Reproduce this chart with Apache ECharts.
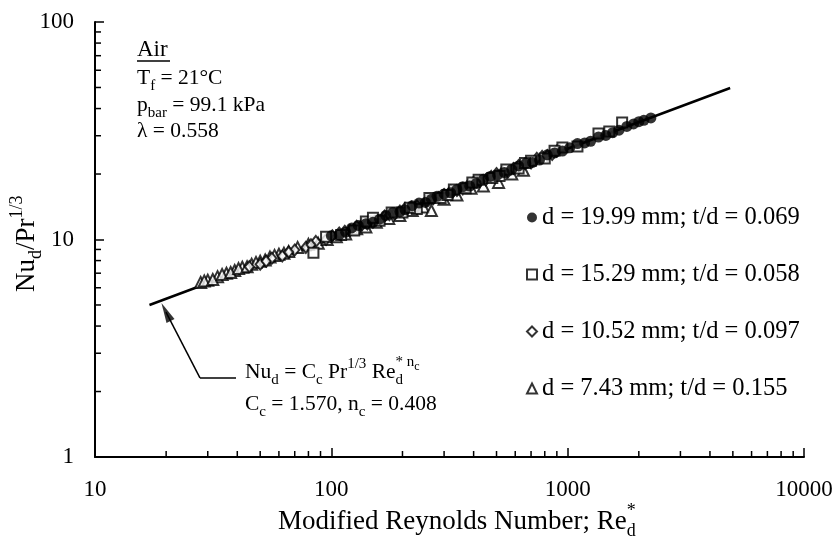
<!DOCTYPE html>
<html>
<head>
<meta charset="utf-8">
<script src="https://cdn.jsdelivr.net/npm/echarts@6/dist/echarts.min.js"></script>
<style>
  html, body { margin: 0; padding: 0; background: #fff; }
  #chart { width: 837px; height: 546px; }
</style>
</head>
<body>
<div id="chart"></div>
<script>
const FONT = '"Liberation Serif", "Times New Roman", serif';

// d = 19.99 mm (filled circles)
const cirRe = [100, 115, 130, 150, 170, 195, 220, 250, 280, 320, 360, 410, 470, 540, 620, 710, 820, 950, 1100, 1250, 1450, 1650, 1900, 2100, 2250,
  108, 122, 140, 160, 182, 205, 235, 265, 300, 340, 385, 440, 505, 580, 665, 760, 880, 1020, 1180, 1350, 1550, 1780, 2000];
const cirNu = [10.4, 10.8, 11.6, 12.0, 12.9, 13.4, 14.3, 14.8, 15.8, 16.4, 17.5, 18.1, 19.5, 20.3, 21.8, 22.6, 24.5, 25.5, 27.6, 28.3, 30.1, 31.8, 34.0, 35.3, 36.2,
  10.5, 11.3, 11.8, 12.4, 13.3, 13.7, 14.7, 15.3, 16.2, 17.0, 17.6, 18.9, 19.8, 21.0, 22.4, 23.2, 25.0, 26.4, 27.8, 29.6, 31.0, 33.1, 34.8];
// d = 15.29 mm (squares)
const sqRe = [84, 95, 110, 125, 140, 160, 180, 200, 230, 260, 290, 330, 370, 420, 480, 550, 620, 700, 800, 950, 1100, 1350, 1700,
  150, 215, 310, 395, 515, 660, 880, 1500];
const sqNu = [8.7, 10.3, 10.5, 11.0, 12.1, 12.2, 13.3, 13.3, 13.8, 15.5, 15.5, 17.0, 17.2, 18.8, 19.2, 21.0, 21.2, 23.0, 23.6, 26.5, 26.8, 30.7, 34.5,
  12.6, 14.0, 16.0, 18.3, 19.6, 22.5, 25.6, 31.4];
// d = 10.52 mm (diamonds)
const diaRe = [45, 50, 56, 62, 70, 78, 86, 95, 108, 120, 135, 150, 168, 185, 205, 230, 255, 285, 320, 360, 400, 450, 500, 560, 620, 700, 780, 860,
  53, 66, 82, 101, 114, 128, 142, 176, 195, 218, 270, 300, 340, 380, 425, 475, 530, 590, 660, 740, 820, 900];
const diaNu = [7.5, 7.7, 8.2, 8.4, 8.95, 9.2, 9.8, 10.0, 10.7, 11.0, 11.7, 12.0, 12.8, 13.1, 13.9, 14.3, 15.2, 15.6, 16.7, 17.1, 18.3, 18.8, 20.1, 20.5, 21.9, 22.5, 24.1, 24.6,
  7.95, 8.75, 9.45, 10.4, 10.9, 11.5, 11.8, 13.0, 13.5, 14.1, 15.4, 16.1, 16.8, 17.8, 18.5, 19.5, 20.4, 21.2, 22.3, 23.6, 24.3, 25.5];
// d = 7.43 mm (triangles)
const triRe = [28, 30, 33, 36, 39, 42, 46, 50, 55, 60, 66, 72, 80, 88, 96, 105, 115, 128, 140, 155, 175, 195, 220, 245, 265, 300, 340, 390, 440, 510, 580, 650,
  29, 31.5, 34.5, 37.5, 40.5, 44, 48, 52.5, 57.5, 63];
const triNu = [6.35, 6.5, 6.75, 7.0, 7.2, 7.45, 7.7, 7.95, 8.3, 8.55, 8.8, 9.2, 9.5, 9.6, 10.0, 10.3, 10.6, 11.2, 11.4, 12.0, 12.5, 12.9, 13.6, 14.1, 13.6, 15.3, 16.0, 17.2, 17.6, 18.3, 20.0, 20.8,
  6.45, 6.55, 6.9, 7.05, 7.35, 7.5, 7.85, 8.05, 8.45, 8.65];

// correlation line end points
const fitRe = [17, 4870];
const fitNu = [5.0, 49.7];

// arrow: horizontal end, corner, head
const arrowRe = [39.5, 27.8, 19.97];
const arrowNu = [2.31, 2.31, 4.64];

const seriesNames = [
  'd = 19.99 mm; t/d = 0.069',
  'd = 15.29 mm; t/d = 0.058',
  'd = 10.52 mm; t/d = 0.097',
  'd = 7.43 mm; t/d = 0.155'
];

const xMinor = [20, 30, 40, 50, 60, 70, 80, 90, 200, 300, 400, 500, 600, 700, 800, 900, 2000, 3000, 4000, 5000, 6000, 7000, 8000, 9000];
const yMinor = [2, 3, 4, 5, 6, 7, 8, 9, 20, 30, 40, 50, 60, 70, 80, 90];

const zip = (a, b) => a.map((v, i) => [v, b[i]]);

// simple typesetting for sub/superscripts
const ctx = document.createElement('canvas').getContext('2d');
const measure = (t, size) => {
  ctx.font = size + 'px ' + FONT;
  return ctx.measureText(t).width;
};
// parts: [text, fontSize, dy, keepX]
const typeset = (parts) => {
  const out = [];
  let cx = 0;
  parts.forEach(([t, size, dy, keep]) => {
    out.push({
      type: 'text', x: cx, y: dy || 0,
      style: { text: t, font: size + 'px ' + FONT, fill: '#000', verticalAlign: 'middle', textVerticalAlign: 'middle' }
    });
    if (!keep) cx += measure(t, size);
  });
  return out;
};

const A = 21.5, S = 15;   // annotation text
const T = 27, TS = 18;    // axis titles

const chart = echarts.init(document.getElementById('chart'));

const axisCommon = {
  type: 'log',
  logBase: 10,
  axisLine: { lineStyle: { color: '#000', width: 2 } },
  axisTick: { inside: true, length: 9, lineStyle: { color: '#000', width: 1.5 } },
  splitLine: { show: false },
  axisLabel: {
    color: '#000', fontFamily: FONT, fontSize: 23,
    formatter: (v) => String(Math.round(v))
  }
};

const minorTicks = (vals, isX) => ({
  type: 'custom',
  silent: true,
  clip: false,
  data: vals.map((v) => (isX ? [v, 1] : [10, v])),
  renderItem: (params, api) => {
    const p = api.coord([api.value(0), api.value(1)]);
    return {
      type: 'line',
      shape: isX ? { x1: p[0], y1: p[1], x2: p[0], y2: p[1] - 6 } : { x1: p[0], y1: p[1], x2: p[0] + 6, y2: p[1] },
      style: { stroke: '#000', lineWidth: 1.5 }
    };
  }
});

const openStyle = { color: '#fff', borderColor: '#000', borderWidth: 2 };

chart.setOption({
  animation: false,
  backgroundColor: '#fff',
  grid: { left: 95, right: 33, top: 22, bottom: 89 },
  xAxis: Object.assign({}, axisCommon, { min: 10, max: 10000, axisLabel: Object.assign({}, axisCommon.axisLabel, { margin: 21 }) }),
  yAxis: Object.assign({}, axisCommon, { min: 1, max: 100, axisLabel: Object.assign({}, axisCommon.axisLabel, { margin: 21 }) }),
  legend: {
    orient: 'vertical',
    left: 521,
    top: 200,
    itemGap: 32,
    itemWidth: 10,
    itemHeight: 10,
    selectedMode: false,
    textStyle: { color: '#000', fontFamily: FONT, fontSize: 24.5, lineHeight: 25 },
    data: seriesNames
  },
  series: [
    {
      type: 'line', data: zip(fitRe, fitNu), symbol: 'none', silent: true,
      lineStyle: { color: '#000', width: 2.5 }, z: 1
    },
    {
      name: seriesNames[3], type: 'scatter', data: zip(triRe, triNu),
      symbol: 'triangle', symbolSize: 11, itemStyle: openStyle, z: 3
    },
    {
      name: seriesNames[2], type: 'scatter', data: zip(diaRe, diaNu),
      symbol: 'diamond', symbolSize: [9, 11], itemStyle: openStyle, z: 3
    },
    {
      name: seriesNames[1], type: 'scatter', data: zip(sqRe, sqNu),
      symbol: 'rect', symbolSize: 10, itemStyle: openStyle, z: 3
    },
    {
      name: seriesNames[0], type: 'scatter', data: zip(cirRe, cirNu),
      symbol: 'circle', symbolSize: 11, itemStyle: { color: '#000' }, z: 4
    },
    {
      type: 'scatter', silent: true,
      data: [[arrowRe[2], arrowNu[2]]],
      symbol: 'triangle', symbolSize: [9, 20], symbolRotate: 27,
      itemStyle: { color: '#000' },
      markLine: {
        silent: true, symbol: ['none', 'none'], label: { show: false },
        lineStyle: { color: '#000', width: 1.5, type: 'solid' },
        data: [
          [{ coord: [arrowRe[0], arrowNu[0]] }, { coord: [arrowRe[1], arrowNu[1]] }],
          [{ coord: [arrowRe[1], arrowNu[1]] }, { coord: [arrowRe[2], arrowNu[2]] }]
        ]
      }
    },
    minorTicks(xMinor, true),
    minorTicks(yMinor, false)
  ],
  graphic: [
    // air properties block
    { type: 'group', x: 137, y: 50, children: typeset([['Air', 23]]) },
    { type: 'line', shape: { x1: 137, y1: 61, x2: 170, y2: 61 }, style: { stroke: '#000', lineWidth: 1.5 } },
    { type: 'group', x: 137, y: 78, children: typeset([['T', A], ['f', S, 8], [' = 21°C', A]]) },
    { type: 'group', x: 137, y: 105, children: typeset([['p', A], ['bar', S, 8], [' = 99.1 kPa', A]]) },
    { type: 'group', x: 137, y: 131, children: typeset([['λ = 0.558', A]]) },
    // correlation
    {
      type: 'group', x: 245, y: 372,
      children: typeset([
        ['Nu', A], ['d', S, 8], [' = C', A], ['c', S, 8], [' Pr', A], ['1/3', S, -8], [' Re', A],
        ['*', S, -10, true], ['d', S, 8], [' n', S, -10], ['c', 12, -5]
      ])
    },
    {
      type: 'group', x: 245, y: 404,
      children: typeset([['C', A], ['c', S, 8], [' = 1.570, n', A], ['c', S, 8], [' = 0.408', A]])
    },
    // axis titles
    {
      type: 'group', x: 278, y: 522,
      children: typeset([['Modified Reynolds Number; Re', T], ['*', TS, -11, true], ['d', TS, 9]])
    },
    {
      type: 'group', x: 27, y: 292, rotation: Math.PI / 2,
      children: typeset([['Nu', T], ['d', TS, 9], ['/Pr', T], ['1/3', TS, -10]])
    }
  ]
});
</script>
</body>
</html>
